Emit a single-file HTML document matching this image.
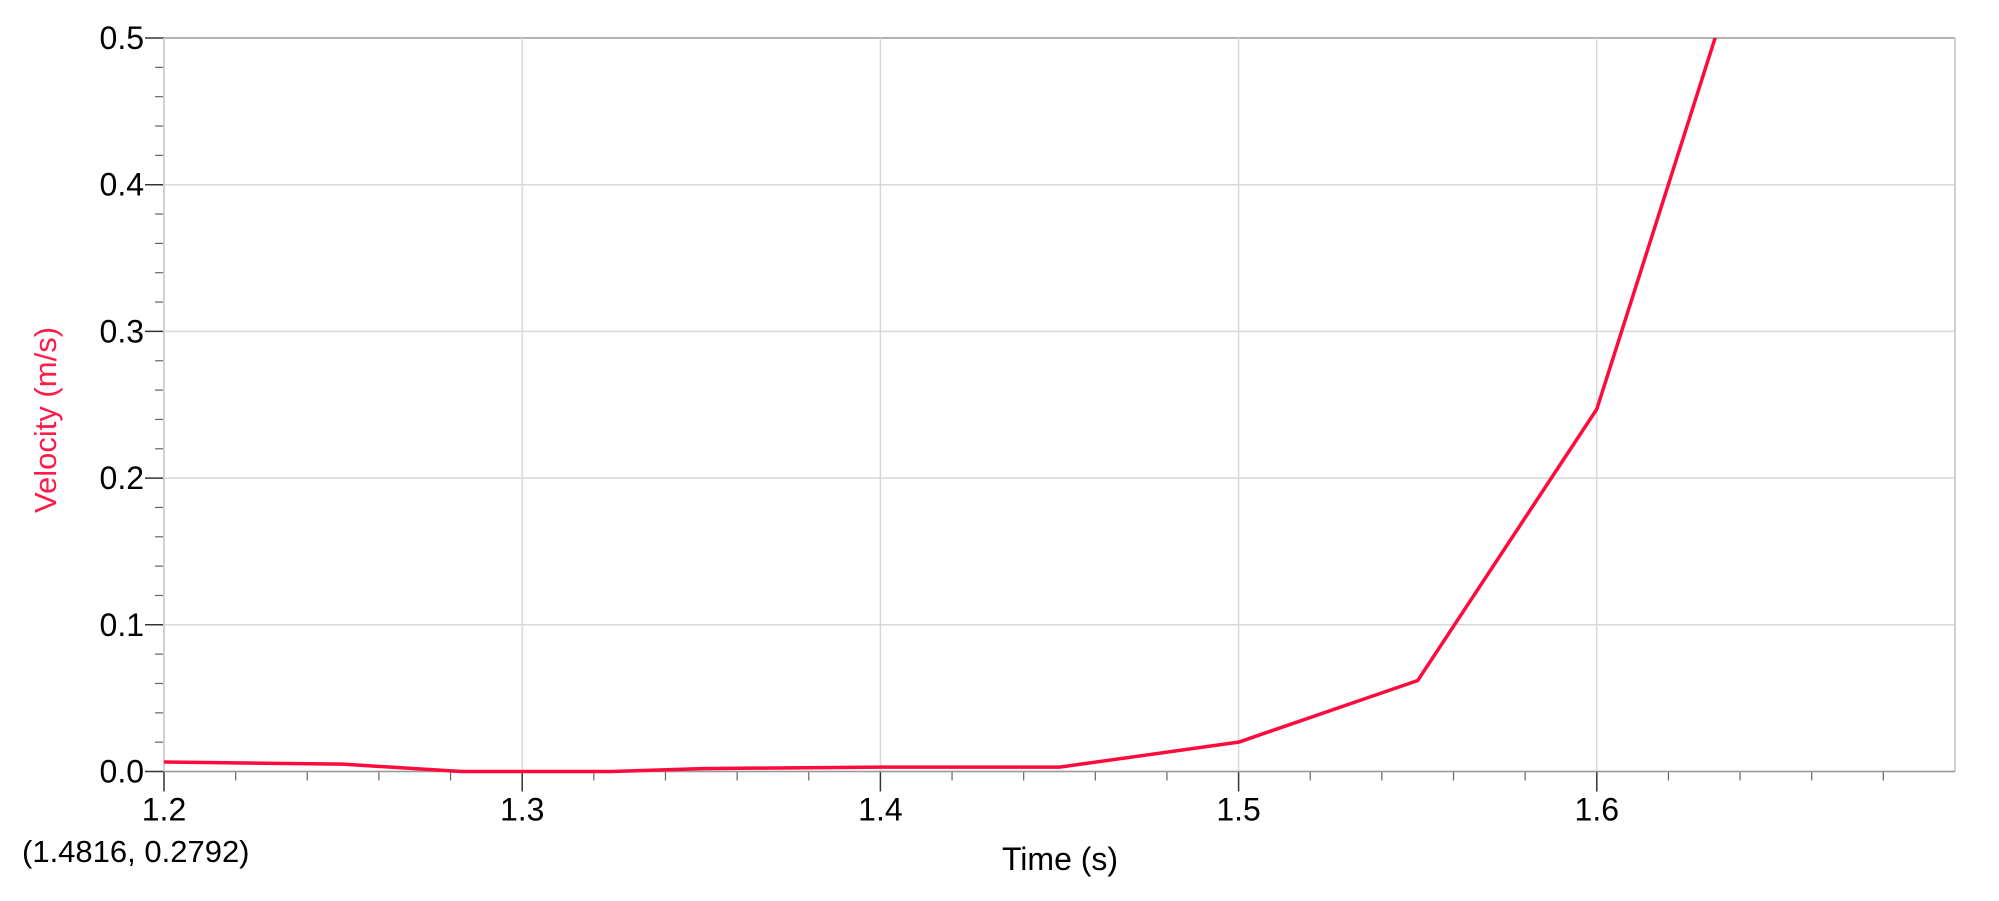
<!DOCTYPE html>
<html><head><meta charset="utf-8"><style>
body{margin:0;background:#fff;}
svg text{font-family:"Liberation Sans",sans-serif;}
</style></head><body>
<svg id="chart" width="1999" height="896" viewBox="0 0 1999 896" xmlns="http://www.w3.org/2000/svg">
<g id="grid"></g>
<g id="axes"></g>
<g id="series"></g>
<text x="0" y="0" transform="translate(56,420) rotate(-90)" text-anchor="middle" font-size="31" fill="#ff1a47">Velocity (m/s)</text>
<text x="1060" y="870" text-anchor="middle" font-size="32" fill="#000">Time (s)</text>
<text x="22" y="862" font-size="31" fill="#000">(1.4816, 0.2792)</text>
</svg>
<script>
const times=[1.2,1.25,1.283,1.325,1.35,1.4,1.45,1.5,1.55,1.6,1.65];
const velocities=[0.0065,0.005,0,0,0.002,0.003,0.003,0.02,0.062,0.247,0.63];
const xTickLabels=["1.2","1.3","1.4","1.5","1.6"];
const yTickLabels=["0.0","0.1","0.2","0.3","0.4","0.5"];
const NS="http://www.w3.org/2000/svg";
const L=164,R=1955,T=38,B=771.5;
const X0=1.2,X1=1.7,Y0=0,Y1=0.5;
function sx(v){return L+(v-X0)/(X1-X0)*(R-L);}
function sy(v){return B-(v-Y0)/(Y1-Y0)*(B-T);}
function mk(tag,attrs,parent){const e=document.createElementNS(NS,tag);for(const k in attrs)e.setAttribute(k,attrs[k]);parent.appendChild(e);return e;}
const grid=document.getElementById('grid'),axes=document.getElementById('axes'),series=document.getElementById('series');
yTickLabels.forEach(function(t){const v=parseFloat(t),y=sy(v);
 const g=mk('line',{x1:L,x2:R,y1:y,y2:y,stroke:(v===Y1?'#999':'#d8d8d8'),'stroke-width':1.5},grid);
 
 
 const tk=mk('line',{x1:L-19,x2:L,y1:y,y2:y,stroke:'#333','stroke-width':1.5},axes);
 
 
 const tx=mk('text',{x:L-20,y:y+11,'text-anchor':'end','font-size':32,fill:'#000'},axes);tx.textContent=t;
 
 
});
for(let i=1;i<25;i++){if(i%5===0)continue;const y=sy(i*0.02);
 const m=mk('line',{x1:L-9,x2:L,y1:y,y2:y,stroke:'#666','stroke-width':1.2},axes);
 
 
}
xTickLabels.forEach(function(t){const v=parseFloat(t),x=sx(v);
 const g=mk('line',{x1:x,x2:x,y1:T,y2:B,stroke:'#d8d8d8','stroke-width':1.5},grid);
 
 
 const tk=mk('line',{x1:x,x2:x,y1:B,y2:B+20,stroke:'#333','stroke-width':1.5},axes);
 
 
 const tx=mk('text',{x:x,y:B+49,'text-anchor':'middle','font-size':32,fill:'#000'},axes);tx.textContent=t;
 
 
});
for(let i=1;i<25;i++){if(i%5===0)continue;const x=sx(X0+i*0.02);
 const m=mk('line',{x1:x,x2:x,y1:B,y2:B+9,stroke:'#666','stroke-width':1.2},axes);
 
 
}
const ra=mk('line',{x1:R,x2:R,y1:T,y2:B,stroke:'#d0d0d0','stroke-width':2},grid);


const ya=mk('line',{x1:L,x2:L,y1:T,y2:B,stroke:'#d0d0d0','stroke-width':2},axes);


const xa=mk('line',{x1:L,x2:R,y1:B,y2:B,stroke:'#999','stroke-width':1.5},axes);


const cp=mk('clipPath',{id:'plotclip'},document.getElementById('chart'));
mk('rect',{x:L,y:T,width:R-L,height:B-T+3},cp);
const pts=times.map(function(t,i){return sx(t)+','+sy(velocities[i]);}).join(' ');
const line=mk('polyline',{points:pts,fill:'none',stroke:'#ff0a3c','stroke-width':3.5,'stroke-linejoin':'round','clip-path':'url(#plotclip)'},series);


</script>
</body></html>
